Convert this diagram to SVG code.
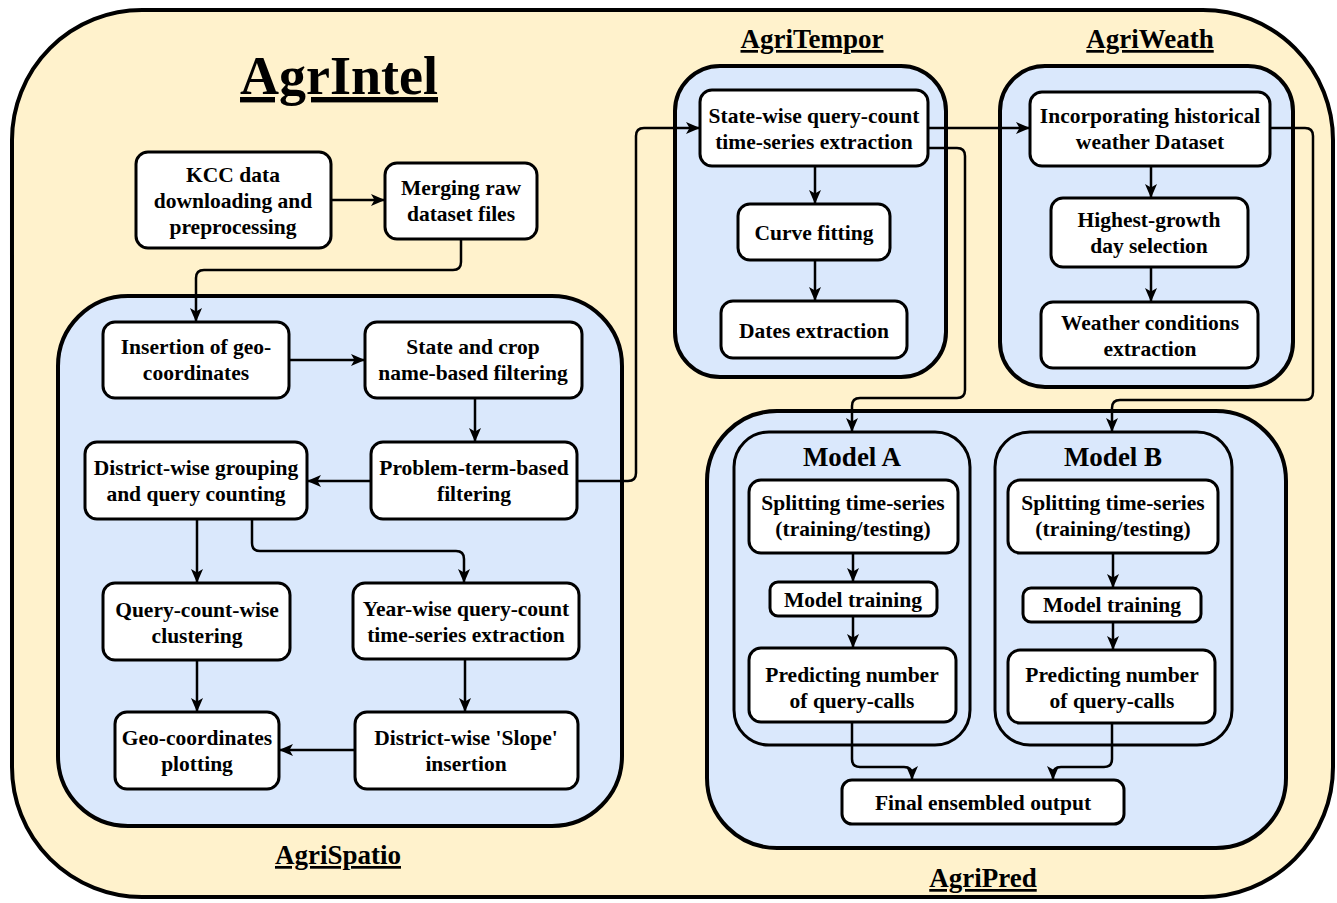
<svg xmlns="http://www.w3.org/2000/svg" width="1337" height="903" viewBox="0 0 1337 903">
<defs>
<style>
text{font-family:"Liberation Serif","Times New Roman",serif;font-weight:bold;fill:#000;text-anchor:middle}
.t{font-size:21.5px}
.lbl{font-size:27px;text-decoration:underline}
.mt{font-size:27px}
.node{fill:#fff;stroke:#000;stroke-width:3}
.cont{fill:#dae8fc;stroke:#000;stroke-width:4}
.sub{fill:none;stroke:#000;stroke-width:3}
.c{fill:none;stroke:#000;stroke-width:2.5;marker-end:url(#ah)}
</style>
<marker id="ah" viewBox="0 0 14 14" refX="14" refY="7" markerWidth="14" markerHeight="14" markerUnits="userSpaceOnUse" orient="auto">
<path d="M0,1 L14,7 L0,13 L3.5,7 z" fill="#000"/>
</marker>
</defs>
<rect x="0" y="0" width="1337" height="903" fill="#fff"/>
<rect id="outer" x="12" y="10" width="1321" height="887" rx="130" ry="130" fill="#fff2cc" stroke="#000" stroke-width="4"/>
<text x="339" y="94" style="font-size:54px;text-decoration:underline">AgrIntel</text>

<g id="AgriSpatio">
<rect class="cont" x="58" y="296" width="564" height="530" rx="70"/>
<text class="lbl" x="338" y="864">AgriSpatio</text>
</g>
<g id="AgriTempor">
<rect class="cont" x="675" y="66" width="271" height="311" rx="45"/>
<text class="lbl" x="812" y="48">AgriTempor</text>
</g>
<g id="AgriWeath">
<rect class="cont" x="1000" y="66" width="293" height="321" rx="45"/>
<text class="lbl" x="1150" y="48">AgriWeath</text>
</g>
<g id="AgriPred">
<rect class="cont" x="707" y="411" width="579" height="437" rx="70"/>
<text class="lbl" x="983" y="887">AgriPred</text>
</g>
<g id="ModelA">
<rect class="sub" x="734" y="432" width="236" height="313" rx="35"/>
<text class="mt" x="852" y="466">Model A</text>
</g>
<g id="ModelB">
<rect class="sub" x="995" y="432" width="237" height="313" rx="35"/>
<text class="mt" x="1113" y="466">Model B</text>
</g>

<g id="connectors">
<path class="c" d="M331,200 H385"/>
<path class="c" d="M461,239 V262 Q461,270 453,270 H204 Q196,270 196,278 V322"/>
<path class="c" d="M289,360 H365"/>
<path class="c" d="M475,398 V442"/>
<path class="c" d="M371,481 H307"/>
<path class="c" d="M197,519 V583"/>
<path class="c" d="M252,519 V543 Q252,551 260,551 H456 Q464,551 464,559 V583"/>
<path class="c" d="M197,660 V712"/>
<path class="c" d="M465,659 V712"/>
<path class="c" d="M355,750 H279"/>
<path class="c" d="M577,481 H628 Q636,481 636,473 V136 Q636,128 644,128 H700"/>
<path class="c" d="M815,166 V204"/>
<path class="c" d="M815,260 V301"/>
<path class="c" d="M928,128 H1030"/>
<path class="c" d="M928,148 H957 Q965,148 965,156 V390 Q965,398 957,398 H860 Q852,398 852,406 V432"/>
<path class="c" d="M1151,166 V198"/>
<path class="c" d="M1151,267 V302"/>
<path class="c" d="M1270,128 H1305 Q1313,128 1313,136 V392 Q1313,400 1305,400 H1120 Q1112,400 1112,408 V432"/>
<path class="c" d="M853,553 V582"/>
<path class="c" d="M853,616 V648"/>
<path class="c" d="M1113,553 V588"/>
<path class="c" d="M1113,622 V650"/>
<path class="c" d="M852,722 V759 Q852,767 860,767 H904 Q912,767 912,775 V780"/>
<path class="c" d="M1112,723 V759 Q1112,767 1104,767 H1061 Q1053,767 1053,775 V780"/>
</g>

<g id="kcc"><rect class="node" x="136" y="152" width="195" height="96" rx="12"/>
<text class="t" x="233" y="182">KCC data</text><text class="t" x="233" y="208">downloading and</text><text class="t" x="233" y="234">preprocessing</text></g>
<g id="merging"><rect class="node" x="385" y="163" width="152" height="76" rx="12"/>
<text class="t" x="461" y="195">Merging raw</text><text class="t" x="461" y="221">dataset files</text></g>
<g id="insertion"><rect class="node" x="103" y="322" width="186" height="76" rx="12"/>
<text class="t" x="196" y="354">Insertion of geo-</text><text class="t" x="196" y="380">coordinates</text></g>
<g id="statecrop"><rect class="node" x="365" y="322" width="217" height="76" rx="12"/>
<text class="t" x="473" y="354">State and crop</text><text class="t" x="473" y="380">name-based filtering</text></g>
<g id="problem"><rect class="node" x="371" y="442" width="206" height="77" rx="12"/>
<text class="t" x="474" y="475">Problem-term-based</text><text class="t" x="474" y="501">filtering</text></g>
<g id="district"><rect class="node" x="85" y="442" width="222" height="77" rx="12"/>
<text class="t" x="196" y="475">District-wise grouping</text><text class="t" x="196" y="501">and query counting</text></g>
<g id="querycount"><rect class="node" x="103" y="583" width="187" height="77" rx="12"/>
<text class="t" x="197" y="617">Query-count-wise</text><text class="t" x="197" y="643">clustering</text></g>
<g id="yearwise"><rect class="node" x="353" y="583" width="226" height="76" rx="12"/>
<text class="t" x="466" y="616">Year-wise query-count</text><text class="t" x="466" y="642">time-series extraction</text></g>
<g id="geoplot"><rect class="node" x="115" y="712" width="164" height="77" rx="12"/>
<text class="t" x="197" y="745">Geo-coordinates</text><text class="t" x="197" y="771">plotting</text></g>
<g id="slope"><rect class="node" x="355" y="712" width="223" height="77" rx="12"/>
<text class="t" x="466" y="745">District-wise 'Slope'</text><text class="t" x="466" y="771">insertion</text></g>

<g id="statewise"><rect class="node" x="700" y="90" width="228" height="76" rx="12"/>
<text class="t" x="814" y="123">State-wise query-count</text><text class="t" x="814" y="149">time-series extraction</text></g>
<g id="curve"><rect class="node" x="738" y="204" width="152" height="56" rx="12"/>
<text class="t" x="814" y="240">Curve fitting</text></g>
<g id="dates"><rect class="node" x="721" y="301" width="186" height="57" rx="12"/>
<text class="t" x="814" y="338">Dates extraction</text></g>

<g id="incorp"><rect class="node" x="1030" y="92" width="240" height="74" rx="12"/>
<text class="t" x="1150" y="123">Incorporating historical</text><text class="t" x="1150" y="149">weather Dataset</text></g>
<g id="highest"><rect class="node" x="1051" y="198" width="197" height="69" rx="12"/>
<text class="t" x="1149" y="227">Highest-growth</text><text class="t" x="1149" y="253">day selection</text></g>
<g id="weather"><rect class="node" x="1041" y="302" width="217" height="66" rx="12"/>
<text class="t" x="1150" y="330">Weather conditions</text><text class="t" x="1150" y="356">extraction</text></g>

<g id="splitA"><rect class="node" x="749" y="480" width="209" height="73" rx="12"/>
<text class="t" x="853" y="510">Splitting time-series</text><text class="t" x="853" y="536">(training/testing)</text></g>
<g id="trainA"><rect class="node" x="770" y="582" width="167" height="34" rx="8"/>
<text class="t" x="853" y="607">Model training</text></g>
<g id="predA"><rect class="node" x="749" y="648" width="207" height="74" rx="12"/>
<text class="t" x="852" y="682">Predicting number</text><text class="t" x="852" y="708">of query-calls</text></g>
<g id="splitB"><rect class="node" x="1008" y="480" width="210" height="73" rx="12"/>
<text class="t" x="1113" y="510">Splitting time-series</text><text class="t" x="1113" y="536">(training/testing)</text></g>
<g id="trainB"><rect class="node" x="1023" y="588" width="178" height="34" rx="8"/>
<text class="t" x="1112" y="612">Model training</text></g>
<g id="predB"><rect class="node" x="1008" y="650" width="207" height="73" rx="12"/>
<text class="t" x="1112" y="682">Predicting number</text><text class="t" x="1112" y="708">of query-calls</text></g>
<g id="final"><rect class="node" x="842" y="780" width="282" height="44" rx="10"/>
<text class="t" x="983" y="810">Final ensembled output</text></g>
</svg>
